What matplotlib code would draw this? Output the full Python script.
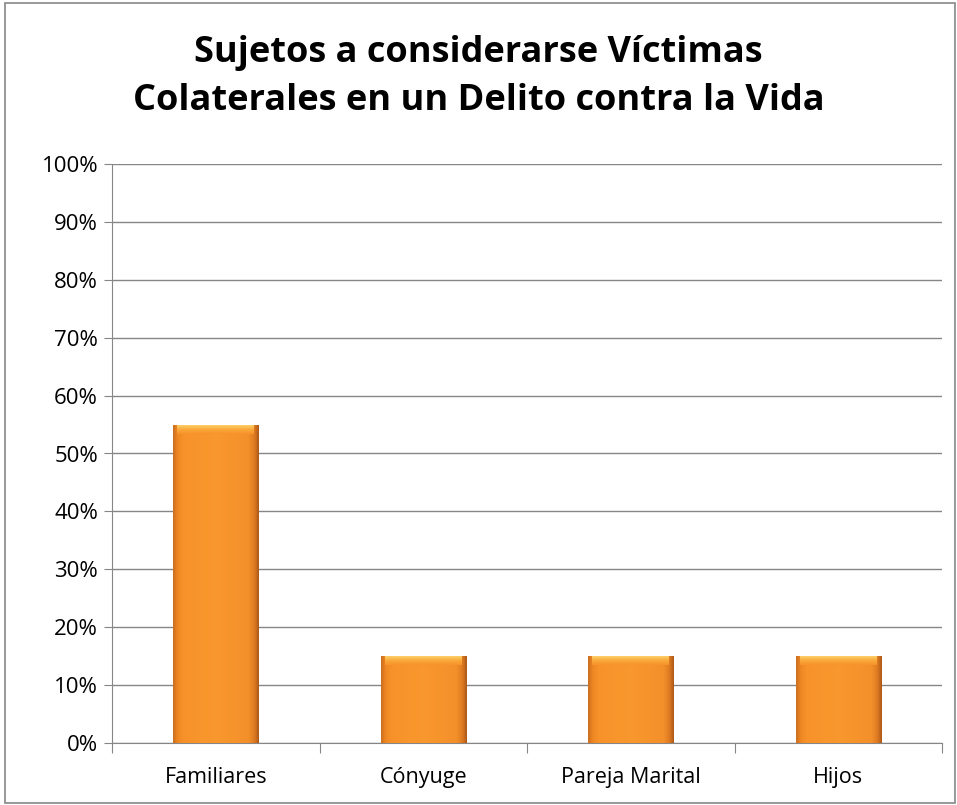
import numpy as np
import matplotlib
matplotlib.use("Agg")
import matplotlib.pyplot as plt
from matplotlib.colors import LinearSegmentedColormap
from matplotlib.patches import Rectangle
from matplotlib.ticker import MultipleLocator, FuncFormatter

# data
categories = ["Familiares", "Cónyuge", "Pareja Marital", "Hijos"]
values = [0.55, 0.15, 0.15, 0.15]
title = "Sujetos a considerarse Víctimas\nColaterales en un Delito contra la Vida"

plt.rcParams['font.family'] = ['Open Sans', 'DejaVu Sans']

fig = plt.figure(figsize=(9.57, 8.05), dpi=100)
ax = fig.add_axes([112 / 957, 1 - 743 / 805, (942 - 112) / 957, (743 - 164) / 805])

# outer border of the chart area
fig.add_artist(Rectangle((5 / 957, 2 / 805), 950 / 957, 800 / 805, transform=fig.transFigure,
                         fill=False, edgecolor='#888888', linewidth=1.2))

x = np.arange(len(categories))
bars = ax.bar(x, values, width=0.41, color='#F7922A', edgecolor='none', zorder=3)

# horizontal shading: dark thin edges, flat orange middle
hcmap = LinearSegmentedColormap.from_list(
    "h", [(0, "#CC6E20"), (0.05, "#EC8622"), (0.12, "#F7922A"), (0.5, "#F9982E"),
          (0.88, "#F4902A"), (0.95, "#DC7A22"), (1, "#AC5819")])
grad = np.linspace(0, 1, 256).reshape(1, -1)
vcmap = LinearSegmentedColormap.from_list("v", ["#FCD06A", "#F9A83A", "#F7922A"])
vgrad = np.linspace(0, 1, 64).reshape(-1, 1)
for b in bars:
    x0, w, h = b.get_x(), b.get_width(), b.get_height()
    im = ax.imshow(grad, cmap=hcmap, aspect='auto', extent=(x0, x0 + w, 0, h),
                   zorder=3, interpolation='bicubic')
    im.set_clip_path(b)
    # top bevel highlight
    ax.imshow(vgrad, cmap=vcmap, aspect='auto',
              extent=(x0 + w * 0.05, x0 + w * 0.95, h - 0.016, h - 0.002),
              zorder=4, interpolation='bicubic')

ax.set_xlim(-0.5, len(categories) - 0.5)
ax.set_ylim(0, 1)
ax.yaxis.set_major_locator(MultipleLocator(0.1))
ax.yaxis.set_major_formatter(FuncFormatter(lambda v, p: f"{v * 100:.0f}%"))
ax.set_xticks(np.arange(len(categories) + 1) - 0.5, minor=False)
ax.set_xticklabels([])
ax.set_xticks(x, minor=True)
ax.set_xticklabels(categories, minor=True)
ax.tick_params(axis='x', which='minor', length=0, pad=17, labelsize=15.5)
ax.tick_params(axis='x', which='major', length=7, color='#868686', direction='out')
ax.tick_params(axis='y', length=6, color='#868686', labelsize=16, pad=4)

ax.grid(axis='y', color='#868686', linewidth=1, zorder=0)
for s in ['top', 'right']:
    ax.spines[s].set_visible(False)
ax.spines['left'].set_color('#868686')
ax.spines['bottom'].set_color('#868686')

fig.text(0.5, 1 - 77 / 805, title, ha='center', va='center', fontsize=26,
         fontweight='bold', linespacing=1.45)

fig.savefig("out.png", dpi=100)
